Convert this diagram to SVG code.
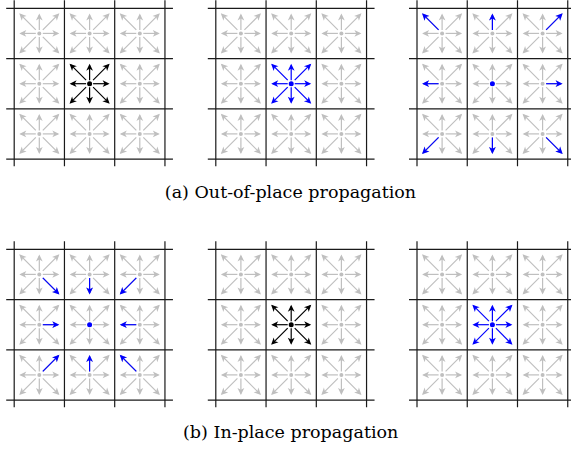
<svg xmlns="http://www.w3.org/2000/svg" xmlns:xlink="http://www.w3.org/1999/xlink" width="571" height="453" viewBox="0 0 571 453">
<style>
.g{stroke:#bfbfbf;stroke-width:1.2;fill:none;marker-end:url(#mg)}
.k{stroke:#000;stroke-width:1.2;fill:none;marker-end:url(#mk)}
.b{stroke:#0000ff;stroke-width:1.2;fill:none;marker-end:url(#mb)}
.ln{stroke:#1a1a1a;stroke-width:1.2;fill:none}
.dg{fill:#bfbfbf}
.dk{fill:#000}
.db{fill:#0000ff}
.cap{font-family:"DejaVu Serif","Liberation Serif",serif;font-size:17.5px;fill:#000;text-anchor:middle}
</style>
<defs>
<marker id="mg" markerUnits="userSpaceOnUse" orient="auto" overflow="visible" markerWidth="1" markerHeight="1"><path d="M1.5,0L-5.5,-3.4L-3.6,0L-5.5,3.4Z" fill="#bfbfbf"/></marker>
<marker id="mk" markerUnits="userSpaceOnUse" orient="auto" overflow="visible" markerWidth="1" markerHeight="1"><path d="M1.5,0L-5.5,-3.4L-3.6,0L-5.5,3.4Z" fill="#000"/></marker>
<marker id="mb" markerUnits="userSpaceOnUse" orient="auto" overflow="visible" markerWidth="1" markerHeight="1"><path d="M1.5,0L-5.5,-3.4L-3.6,0L-5.5,3.4Z" fill="#0000ff"/></marker>
<g id="st">
<path id="aE" d="M3.5,0H18.5"/>
<path id="aW" d="M-3.5,0H-18.5"/>
<path id="aN" d="M0,-3.5V-18.5"/>
<path id="aS" d="M0,3.5V18.5"/>
<path id="aNE" d="M3.5,-3.5L19,-19"/>
<path id="aNW" d="M-3.5,-3.5L-19,-19"/>
<path id="aSE" d="M3.5,3.5L19,19"/>
<path id="aSW" d="M-3.5,3.5L-19,19"/>
</g>
<g id="cg"><use xlink:href="#st" class="g"/><circle r="2" class="dg"/></g>
<g id="cb0"><use xlink:href="#st" class="g"/><circle r="2.5" class="db"/></g>
<g id="ck"><use xlink:href="#st" class="k"/><circle r="2.5" class="dk"/></g>
<g id="cbs"><use xlink:href="#st" class="b"/><circle r="2.5" class="db"/></g>
<g id="grid" class="ln">
<path d="M0,-8V158M50.25,-8V158M100.5,-8V158M150.75,-8V158"/>
<path d="M-8,0H158.75M-8,50.25H158.75M-8,100.5H158.75M-8,150.75H158.75"/>
</g>
<g id="ring">
<use xlink:href="#cg" x="25.1" y="25.1"/><use xlink:href="#cg" x="75.4" y="25.1"/><use xlink:href="#cg" x="125.6" y="25.1"/>
<use xlink:href="#cg" x="25.1" y="75.4"/><use xlink:href="#cg" x="125.6" y="75.4"/>
<use xlink:href="#cg" x="25.1" y="125.6"/><use xlink:href="#cg" x="75.4" y="125.6"/><use xlink:href="#cg" x="125.6" y="125.6"/>
</g>
</defs>

<g id="panel-a1" transform="translate(14.2,8.3)">
<use xlink:href="#grid"/>
<use xlink:href="#ring"/>
<g id="a1-center"><use xlink:href="#ck" x="75.4" y="75.4"/></g>
</g>

<g id="panel-a2" transform="translate(215.8,8.3)">
<use xlink:href="#grid"/>
<use xlink:href="#ring"/>
<g id="a2-center"><use xlink:href="#cbs" x="75.4" y="75.4"/></g>
</g>

<g id="panel-a3" transform="translate(417,8.3)">
<use xlink:href="#grid"/>
<use xlink:href="#ring"/>
<g id="a3-center"><use xlink:href="#cb0" x="75.4" y="75.4"/></g>
<g id="a3-highlights">
<use xlink:href="#aNW" class="b" x="25.1" y="25.1"/>
<use xlink:href="#aN" class="b" x="75.4" y="25.1"/>
<use xlink:href="#aNE" class="b" x="125.6" y="25.1"/>
<use xlink:href="#aW" class="b" x="25.1" y="75.4"/>
<use xlink:href="#aE" class="b" x="125.6" y="75.4"/>
<use xlink:href="#aSW" class="b" x="25.1" y="125.6"/>
<use xlink:href="#aS" class="b" x="75.4" y="125.6"/>
<use xlink:href="#aSE" class="b" x="125.6" y="125.6"/>
</g>
</g>

<g id="panel-b1" transform="translate(14.2,249.3)">
<use xlink:href="#grid"/>
<use xlink:href="#ring"/>
<g id="b1-center"><use xlink:href="#cb0" x="75.4" y="75.4"/></g>
<g id="b1-highlights">
<use xlink:href="#aSE" class="b" x="25.1" y="25.1"/>
<use xlink:href="#aS" class="b" x="75.4" y="25.1"/>
<use xlink:href="#aSW" class="b" x="125.6" y="25.1"/>
<use xlink:href="#aE" class="b" x="25.1" y="75.4"/>
<use xlink:href="#aW" class="b" x="125.6" y="75.4"/>
<use xlink:href="#aNE" class="b" x="25.1" y="125.6"/>
<use xlink:href="#aN" class="b" x="75.4" y="125.6"/>
<use xlink:href="#aNW" class="b" x="125.6" y="125.6"/>
</g>
</g>

<g id="panel-b2" transform="translate(215.8,249.3)">
<use xlink:href="#grid"/>
<use xlink:href="#ring"/>
<g id="b2-center"><use xlink:href="#ck" x="75.4" y="75.4"/></g>
</g>

<g id="panel-b3" transform="translate(417,249.3)">
<use xlink:href="#grid"/>
<use xlink:href="#ring"/>
<g id="b3-center"><use xlink:href="#cbs" x="75.4" y="75.4"/></g>
</g>

<text class="cap" x="290.5" y="197.5">(a) Out-of-place propagation</text>
<text class="cap" x="290.7" y="438">(b) In-place propagation</text>
</svg>
